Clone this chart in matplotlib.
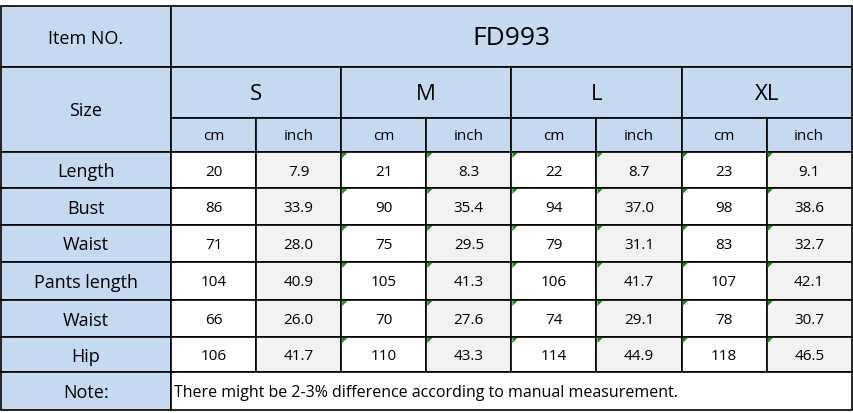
import matplotlib.pyplot as plt
from matplotlib.patches import Rectangle, Polygon

# Table contents
item_no = "FD993"
sizes = ["S", "M", "L", "XL"]
units = ["cm", "inch"]
row_labels = ["Length", "Bust", "Waist", "Pants length", "Waist", "Hip"]
cm_values = [
    [20, 21, 22, 23],
    [86, 90, 94, 98],
    [71, 75, 79, 83],
    [104, 105, 106, 107],
    [66, 70, 74, 78],
    [106, 110, 114, 118],
]
inch_values = [
    [7.9, 8.3, 8.7, 9.1],
    [33.9, 35.4, 37.0, 38.6],
    [28.0, 29.5, 31.1, 32.7],
    [40.9, 41.3, 41.7, 42.1],
    [26.0, 27.6, 29.1, 30.7],
    [41.7, 43.3, 44.9, 46.5],
]
note_label = "Note:"
note_text = "There might be 2-3% difference according to manual measurement."

# Layout in pixels
blue = "#C5D9F1"
gray = "#F2F2F2"
font = "Open Sans"
x0, xc, cw = 1, 171, 85.1
y_rows = [6, 67, 118, 152, 188, 225, 262, 300, 337, 372, 410]

fig = plt.figure(figsize=(8.54, 4.13), dpi=100)
ax = fig.add_axes([0, 0, 1, 1])
ax.set_xlim(0, 854)
ax.set_ylim(413, 0)
ax.axis("off")
xr = xc + 8 * cw


def cell(x1, y1, x2, y2, color, text="", size=11, ha="center", pad=0):
    ax.add_patch(Rectangle((x1, y1), x2 - x1, y2 - y1, facecolor=color,
                           edgecolor="black", linewidth=1.2))
    if text:
        tx = (x1 + x2) / 2 if ha == "center" else x1 + pad
        ax.text(tx, (y1 + y2) / 2 + 2, text, ha=ha, va="center", fontsize=size,
                family=font)


# header
cell(x0, y_rows[0], xc, y_rows[1], blue, "Item NO.", 13)
cell(xc, y_rows[0], xr, y_rows[1], blue, item_no, 19)
cell(x0, y_rows[1], xc, y_rows[3], blue, "Size", 13)
for i, s in enumerate(sizes):
    cell(xc + 2 * i * cw, y_rows[1], xc + 2 * (i + 1) * cw, y_rows[2], blue, s, 16)
    for j, u in enumerate(units):
        xa = xc + (2 * i + j) * cw
        cell(xa, y_rows[2], xa + cw, y_rows[3], blue, u, 11)

# data rows
for r, label in enumerate(row_labels):
    ya, yb = y_rows[3 + r], y_rows[4 + r]
    cell(x0, ya, xc, yb, blue, label, 13)
    for i in range(len(sizes)):
        xa = xc + 2 * i * cw
        cell(xa, ya, xa + cw, yb, "white", str(cm_values[r][i]), 11)
        cell(xa + cw, ya, xa + 2 * cw, yb, gray, f"{inch_values[r][i]:.1f}", 11)
    for k in range(2, 8):
        xa = xc + k * cw
        ax.add_patch(Polygon([(xa + 1, ya + 1), (xa + 6, ya + 1), (xa + 1, ya + 6)],
                             closed=True, facecolor="#1E8C1E", edgecolor="none"))

# note row
cell(x0, y_rows[9], xc, y_rows[10], blue, note_label, 13)
cell(xc, y_rows[9], xr, y_rows[10], "white", note_text, 11.5, ha="left", pad=3)

fig.savefig("out.png", dpi=100)
